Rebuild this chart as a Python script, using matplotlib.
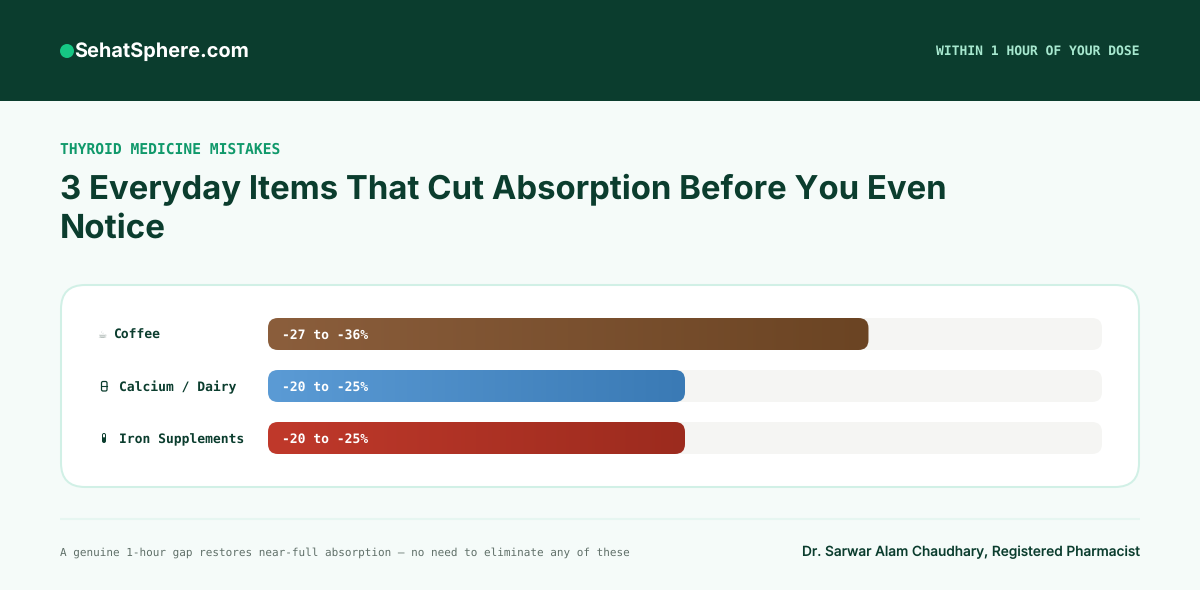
import matplotlib
matplotlib.use('Agg')
import matplotlib.pyplot as plt
import numpy as np
from matplotlib.colors import LinearSegmentedColormap
from matplotlib.patches import FancyBboxPatch, Rectangle, Circle

# chart data
categories = ['Coffee', 'Calcium / Dairy', 'Iron Supplements']
values = [72, 50, 50]
value_labels = ['-27 to -36%', '-20 to -25%', '-20 to -25%']
start_colors = ['#8B5E3C', '#5B9BD5', '#C0392B']
end_colors = ['#6B4423', '#3A7AB5', '#9C2B1E']

BG = '#F5FBF9'
DARK = '#0B3D2E'
SANS = 'Inter'
MONO = 'DejaVu Sans Mono'

plt.rcParams['font.family'] = ['DejaVu Sans', 'Noto Sans']
# no hinting, so that fitted text sizes do not jump in steps
plt.rcParams['text.hinting'] = 'no_hinting'

fig = plt.figure(figsize=(12, 5.9), dpi=100, facecolor=BG)

# page axes in pixels, for the header, card and texts
page = fig.add_axes([0, 0, 1, 1])
page.set_xlim(0, 1200)
page.set_ylim(590, 0)
page.axis('off')


def fit_text(x, y, s, width, **kw):
    # set the font size so the string is as wide as in the reference
    t = page.text(x, y, s, va='center', **kw)
    renderer = fig.canvas.get_renderer()
    w = t.get_window_extent(renderer).width
    t.set_fontsize(t.get_fontsize() * width / w)
    return t


def rounded(x, y, w, h, r, **kw):
    return FancyBboxPatch((x, y), w, h, boxstyle=f'round,pad=0,rounding_size={r}', **kw)


page.add_patch(Rectangle((0, 0), 1200, 101, fc=DARK, ec='none'))
page.add_patch(Circle((67, 51), 7, fc='#16C784', ec='none'))
fit_text(74, 52, 'SehatSphere.com', 175, color='white', family=SANS, weight='bold')
fit_text(1140, 51.5, 'WITHIN 1 HOUR OF YOUR DOSE', 203, color='#A7E8CF', family=MONO,
         weight='bold', ha='right')

fit_text(60, 150, 'THYROID MEDICINE MISTAKES', 221, color='#10996B', family=MONO, weight='bold')
fit_text(60, 189.5, '3 Everyday Items That Cut Absorption Before You Even', 887, color=DARK,
         family=SANS, weight='bold')
fit_text(60, 228.5, 'Notice', 106, color=DARK, family=SANS, weight='bold')

page.add_patch(rounded(61, 285, 1078, 202, 24, fc='white', ec='#D1F0E6', lw=1.45))

page.plot([60, 1140], [519, 519], color='#E6F6F1', lw=1.45, solid_capstyle='butt')
fit_text(60, 552.5, 'A genuine 1-hour gap restores near-full absorption \u2014 no need to eliminate any of these',
         568, color='#5F6F68', family=MONO)
fit_text(1140, 552.5, 'Dr. Sarwar Alam Chaudhary, Registered Pharmacist', 338, color=DARK,
         family=SANS, weight='medium', ha='right')

# row labels
label_x = [113.5, 119, 119]
for i, name in enumerate(categories):
    page.text(label_x[i], 339 + 52 * i, name, va='baseline', family=MONO, weight='bold',
              fontsize=9.36, color=DARK)

# row icons: the coffee cup is in DejaVu, the milk glass and pill are in no installed family
page.text(97.5, 335.5, '\u2615', ha='left', va='center', fontsize=7.5, color='#8A9A94')
page.add_patch(rounded(101.5, 381.5, 5.5, 9.5, 1.5, fc='white', ec=DARK, lw=0.9))
page.plot([101.5, 107], [385.5, 385.5], color=DARK, lw=0.8)
page.add_patch(rounded(102, 433, 4, 10, 2, fc=DARK, ec='none'))
page.add_patch(rounded(103, 434, 2, 3.5, 1, fc='white', ec='none'))

# bar axes: 268..1102 px wide, rows 52 px apart
ax = fig.add_axes([268 / 1200, 1 - 470 / 590, 834 / 1200, 168 / 590])
ax.axis('off')
ax.patch.set_alpha(0)

h = 32 / 52
radius = 10 * 100 / 834
aspect = (1 / 52) / (100 / 834)
for i, v in enumerate(values):
    track = FancyBboxPatch((0, i - h / 2), 100, h, boxstyle=f'round,pad=0,rounding_size={radius}',
                           mutation_aspect=aspect, fc='#F5F5F3', ec='none', zorder=1)
    ax.add_patch(track)
    box = FancyBboxPatch((0, i - h / 2), v, h, boxstyle=f'round,pad=0,rounding_size={radius}',
                         mutation_aspect=aspect, fc='none', ec='none', zorder=2)
    ax.add_patch(box)
    cmap = LinearSegmentedColormap.from_list('bar', [start_colors[i], end_colors[i]])
    im = ax.imshow(np.linspace(0, 1, 256).reshape(1, -1), cmap=cmap, aspect='auto', zorder=2,
                   extent=(0, v, i + h / 2, i - h / 2), interpolation='bilinear')
    im.set_clip_path(box)
    ax.text(14 * 100 / 834, i + 5 / 52, value_labels[i], color='white', va='baseline', family=MONO,
            weight='bold', fontsize=9.36, zorder=3)
ax.set_xlim(0, 100)
ax.set_ylim(2 + 32 / 52, -32 / 52)

fig.savefig('out.png', dpi=100, facecolor=BG)
